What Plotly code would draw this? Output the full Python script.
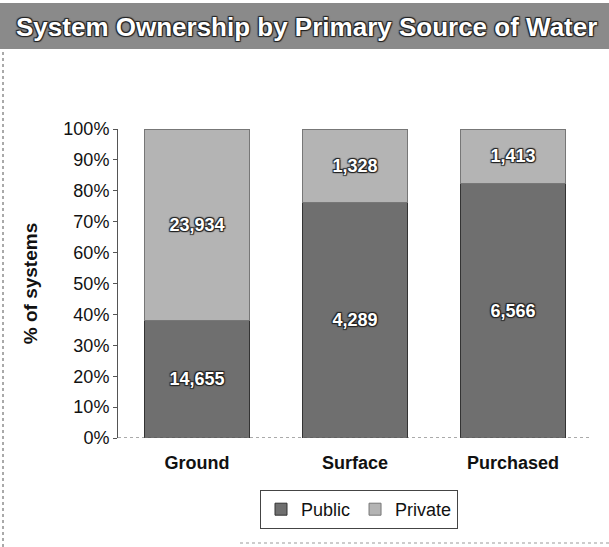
import plotly.graph_objects as go

# Water systems by primary source, split by ownership
sources = ["Ground", "Surface", "Purchased"]
public_counts = [14655, 4289, 6566]
private_counts = [23934, 1328, 1413]
y_ticks = [0, 0.1, 0.2, 0.3, 0.4, 0.5, 0.6, 0.7, 0.8, 0.9, 1.0]

FONT = "Liberation Sans, Arial, sans-serif"
OUTLINE = "1px 1px 1px #222, -1px -1px 1px #222, 1px -1px 1px #222, -1px 1px 1px #222"
label_font = dict(family=FONT, size=18, color="white", weight="bold", shadow=OUTLINE)

fig = go.Figure()
fig.add_trace(go.Bar(
    name="Public", x=sources, y=public_counts,
    text=[f"{v:,}" for v in public_counts],
    textposition="inside", insidetextanchor="middle",
    textfont=label_font,
    marker=dict(color="#6f6f6f", line=dict(color="#333333", width=1)),
))
fig.add_trace(go.Bar(
    name="Private", x=sources, y=private_counts,
    text=[f"{v:,}" for v in private_counts],
    textposition="inside", insidetextanchor="middle",
    textfont=label_font,
    marker=dict(color="#b4b4b4", line=dict(color="#777777", width=1)),
))

fig.update_layout(
    width=609, height=547,
    margin=dict(l=118, r=17, t=129, b=109),
    barmode="stack", barnorm="fraction", bargap=0.34,
    plot_bgcolor="white", paper_bgcolor="white",
    font=dict(family=FONT, size=18, color="#111111"),
    showlegend=True,
    legend=dict(
        orientation="h", x=(359 - 118) / 474, xanchor="center",
        y=(438 - 490) / 309, yanchor="top",
        bordercolor="#444444", borderwidth=1,
        font=dict(size=18), traceorder="normal",
    ),
    uniformtext=dict(mode=False),
)

fig.update_yaxes(
    range=[0, 1], tickvals=y_ticks, tickformat=".0%",
    showgrid=False, zeroline=False,
    showline=True, linecolor="#555555", linewidth=1,
    ticks="outside", ticklen=4, tickcolor="#555555",
    tickfont=dict(size=18),
    title=dict(text="% of systems", font=dict(size=19, weight="bold"), standoff=20),
)
fig.update_xaxes(
    showline=False, showgrid=False, ticks="",
    tickfont=dict(size=18, weight="bold"),
    ticklabelstandoff=12,
)

# dotted baseline along the category axis
fig.add_shape(type="line", xref="paper", yref="y", x0=0, x1=1, y0=0, y1=0,
              line=dict(color="#555555", width=1, dash="dot"))

# title banner
fig.add_shape(type="rect", xref="paper", yref="paper",
              x0=-118 / 474, x1=1 + 17 / 474,
              y0=(438 - 49) / 309, y1=(438 - 3) / 309,
              fillcolor="#8a8a8a", line=dict(width=0), layer="above")
fig.add_annotation(
    xref="paper", yref="paper", x=(306 - 118) / 474, y=(438 - 27) / 309,
    text="System Ownership by Primary Source of Water", showarrow=False,
    xanchor="center", yanchor="middle",
    font=dict(family=FONT, size=26, color="white", weight="bold", shadow=OUTLINE),
)

# dotted frame on the left and bottom edges
fig.add_shape(type="line", xref="paper", yref="paper",
              x0=-115 / 474, x1=-115 / 474, y0=(438 - 547) / 309, y1=(438 - 49) / 309,
              line=dict(color="#555555", width=1, dash="dot"))
fig.add_shape(type="line", xref="paper", yref="paper",
              x0=(240 - 118) / 474, x1=1 + 17 / 474, y0=(438 - 543) / 309, y1=(438 - 543) / 309,
              line=dict(color="#999999", width=1, dash="dot"))

fig.write_html("out.html")
